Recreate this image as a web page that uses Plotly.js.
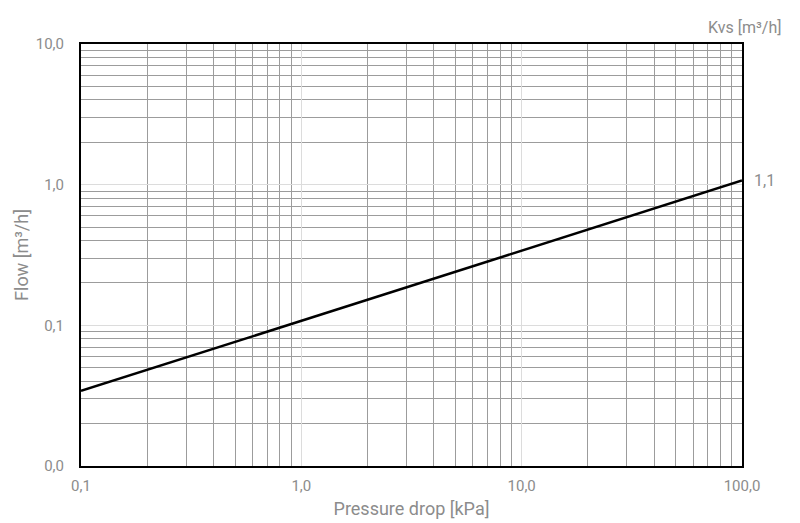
<!DOCTYPE html>
<html>
<head>
<meta charset="utf-8">
<script src="https://cdn.plot.ly/plotly-3.0.1.min.js"></script>
<style>
  html, body { margin: 0; padding: 0; background: #fff; }
  #chart { width: 800px; height: 523px; }
</style>
</head>
<body>
<div id="chart"></div>
<script>
// Kvs line (pressure drop kPa -> flow m3/h)
var pressureDrop = [0.1, 100];
var flow = [0.0342, 1.07];
var kvsLabel = '1,1';

var xTickVals = [0.1, 1, 10, 100];
var xTickText = ['0,1', '1,0', '10,0', '100,0'];
var yTickVals = [0.01, 0.1, 1, 10];
var yTickText = ['0,0', '0,1', '1,0', '10,0'];

var textGrey = '#8c8c8c';

var data = [
    {
        x: pressureDrop,
        y: flow,
        type: 'scatter',
        mode: 'lines',
        line: { color: '#000', width: 2.5 },
        hoverinfo: 'skip'
    }
];

var layout = {
    width: 800,
    height: 523,
    margin: { l: 81, r: 58, t: 44, b: 57 },
    paper_bgcolor: '#fff',
    plot_bgcolor: '#fff',
    showlegend: false,
    font: { family: 'Roboto, sans-serif', size: 15, color: textGrey },
    xaxis: {
        type: 'log',
        range: [-1, 2],
        tickvals: xTickVals,
        ticktext: xTickText,
        ticks: '',
        ticklabelstandoff: 5,
        showgrid: true,
        gridcolor: '#dcdcdc',
        gridwidth: 1,
        minor: { dtick: 'D1', showgrid: true, gridcolor: '#9c9c9c', gridwidth: 1 },
        showline: true,
        linecolor: '#000',
        linewidth: 2,
        mirror: true,
        zeroline: false,
        title: { text: 'Pressure drop [kPa]', standoff: 8 }
    },
    yaxis: {
        type: 'log',
        range: [-2, 1],
        tickvals: yTickVals,
        ticktext: yTickText,
        ticks: '',
        ticklabelstandoff: 12,
        showgrid: true,
        gridcolor: '#dcdcdc',
        gridwidth: 1,
        minor: { dtick: 'D1', showgrid: true, gridcolor: '#9c9c9c', gridwidth: 1 },
        showline: true,
        linecolor: '#000',
        linewidth: 2,
        mirror: true,
        zeroline: false,
        title: { text: 'Flow [m³/h]', standoff: 2 }
    },
    annotations: [
        {
            xref: 'paper', yref: 'paper',
            x: 1.064, y: 1.04,
            xanchor: 'right', yanchor: 'middle',
            text: 'Kvs [m³/h]',
            font: { size: 16 },
            showarrow: false
        },
        {
            xref: 'x', yref: 'y',
            x: Math.log10(pressureDrop[1]), y: Math.log10(flow[1]),
            xanchor: 'left', yanchor: 'middle',
            xshift: 10,
            text: kvsLabel,
            font: { size: 16 },
            showarrow: false
        }
    ]
};

var config = { displayModeBar: false, staticPlot: true };

Plotly.newPlot('chart', data, layout, config);
</script>
</body>
</html>
